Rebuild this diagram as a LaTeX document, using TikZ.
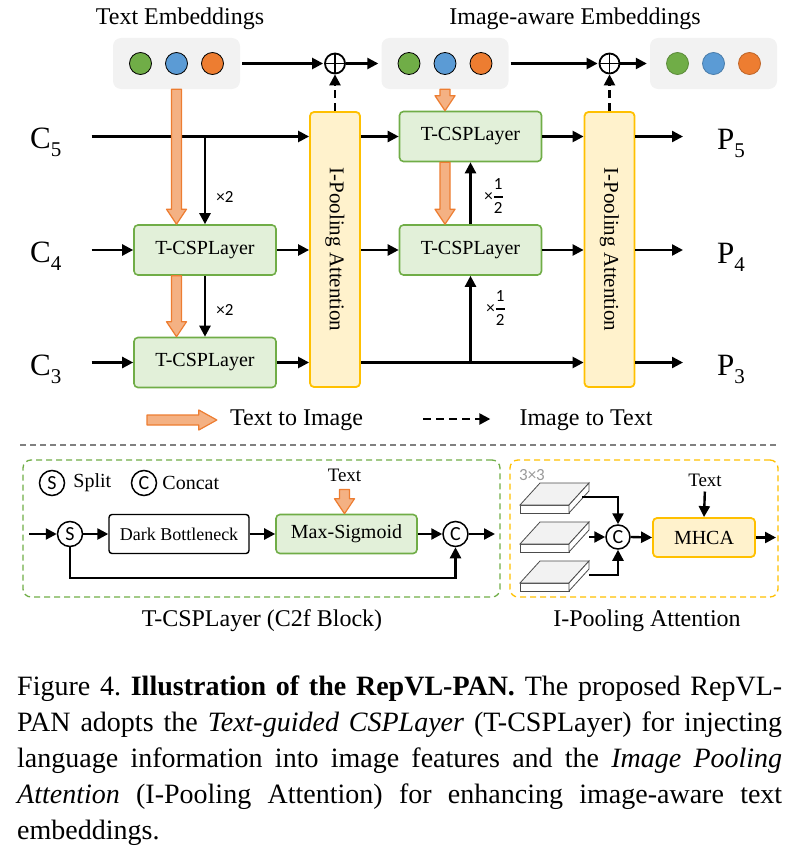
\documentclass[tikz,border=0pt]{standalone}
\usepackage{fontspec}
\setmainfont{Liberation Serif}
\setsansfont{Carlito}
\usepackage{amsmath}
\usetikzlibrary{positioning,arrows.meta,calc}
\definecolor{grnF}{HTML}{E2F0D9}
\definecolor{grnB}{HTML}{70AD47}
\definecolor{orF}{HTML}{F4B183}
\definecolor{orB}{HTML}{ED7D31}
\definecolor{ylF}{HTML}{FFF2CC}
\definecolor{ylB}{HTML}{FFC000}
\definecolor{embF}{HTML}{F2F2F2}
\definecolor{dotG}{HTML}{70AD47}
\definecolor{dotB}{HTML}{5B9BD5}
\definecolor{dotO}{HTML}{ED7D31}
\newcommand\subnivel[1]{\raisebox{-8pt}{\fontsize{21}{21}\selectfont #1}}
\newcommand\medio{\ensuremath{\genfrac{}{}{1.4pt}{0}{\textsf{1}}{\textsf{2}}}}
\tikzset{flecha/.style={line width=2.4pt, -{Triangle[length=11pt,width=11pt]}}}
\tikzset{punteada/.style={flecha, dash pattern=on 8pt off 5pt}}
\tikzset{caja/.style={fill=embF, rounded corners=8pt, minimum width=127pt, minimum height=51pt}}
\tikzset{punto/.style={circle, draw=black, line width=0.8pt, minimum size=22pt, inner sep=0, outer sep=0}}
\tikzset{suma/.style={circle, draw, line width=1.8pt, minimum size=20pt, inner sep=0}}
\tikzset{capa/.style={draw=grnB, fill=grnF, line width=1.6pt, rounded corners=4pt, minimum width=142pt, minimum height=50pt, font=\fontsize{20}{24}\selectfont}}
\tikzset{atencion/.style={draw=ylB, fill=ylF, line width=1.8pt, rounded corners=4pt, minimum width=50pt, minimum height=275pt, inner sep=0, font=\fontsize{21}{24}\selectfont}}
\tikzset{titulo/.style={inner sep=0, font=\fontsize{24}{28}\selectfont}}
\tikzset{texto/.style={inner sep=0, font=\fontsize{20}{24}\selectfont}}
\tikzset{nivel/.style={anchor=base west, inner sep=0, font=\fontsize{31}{34}\selectfont}}
\tikzset{mult/.style={inner sep=0, font=\sffamily\fontsize{17}{20}\selectfont}}
\tikzset{circulo/.style={circle, draw, line width=1.5pt, minimum size=25pt, inner sep=0, font=\sffamily\fontsize{20}{22}\selectfont}}
\tikzset{bloque/.style={draw, line width=1.4pt, rounded corners=3pt, minimum width=140pt, minimum height=39pt, font=\fontsize{18}{22}\selectfont}}
\tikzset{marco/.style={line width=1.3pt, dash pattern=on 6pt off 4pt, rounded corners=8pt, minimum height=137pt}}
\tikzset{losa/.style={draw=black!70, line width=0.8pt}}
\tikzset{leyenda/.style={inner sep=0, text width=765pt, align=justify, font=\fontsize{28}{36}\selectfont\frenchspacing}}
\tikzset{textoimg/.style={draw=orB, fill=orF, line width=1.2pt, line join=round,
  to path={let \p1=(\tikztostart), \p2=(\tikztotarget) in
    (\x1-5pt,\y1) -- (\x1+5pt,\y1) -- (\x1+5pt,\y2+15pt) -- (\x1+10pt,\y2+15pt) -- (\x1,\y2)
    -- (\x1-10pt,\y2+15pt) -- (\x1-5pt,\y2+15pt) -- cycle}}}
\tikzset{textoimgh/.style={draw=orB, fill=orF, line width=1.2pt, line join=round,
  to path={let \p1=(\tikztostart), \p2=(\tikztotarget) in
    (\x1,\y1+5pt) -- (\x2-18pt,\y1+5pt) -- (\x2-18pt,\y1+10pt) -- (\x2,\y1)
    -- (\x2-18pt,\y1-10pt) -- (\x2-18pt,\y1-5pt) -- (\x1,\y1-5pt) -- cycle}}}

\begin{document}
\begin{tikzpicture}[x=1pt,y=-1pt]
            \useasboundingbox (0,0) rectangle (796,851);
            % embeddings
            \node[caja] (te) at (176.5,63.5) {};
            \node[caja] (ae) at (445,63.5) {};
            \node[caja] (oe) at (713.5,63.5) {};
            \node[punto, fill=dotB] (te2) at (te) {};
            \node[punto, fill=dotG, left=14pt of te2] (te1) {};
            \node[punto, fill=dotO, right=14pt of te2] (te3) {};
            \node[punto, fill=dotB] (ae2) at (ae) {};
            \node[punto, fill=dotG, left=14pt of ae2] (ae1) {};
            \node[punto, fill=dotO, right=14pt of ae2] (ae3) {};
            \node[punto, fill=dotB, draw=dotB!80!black] (oe2) at (oe) {};
            \node[punto, fill=dotG, draw=dotG!80!black, left=14pt of oe2] (oe1) {};
            \node[punto, fill=dotO, draw=dotO!80!black, right=14pt of oe2] (oe3) {};
            \node[titulo] (tet) at (180,19) {Text Embeddings};
            \node[titulo] (aet) at (575,19) {Image-aware Embeddings};
            \node[suma] (s1) at (335,63.5) {};
            \node[suma] (s2) at (609.5,63.5) {};
            \draw[line width=1.6pt] (s1.north) -- (s1.south) (s1.west) -- (s1.east);
            \draw[line width=1.6pt] (s2.north) -- (s2.south) (s2.west) -- (s2.east);

            % pan
            \node[atencion] (ip1) at (335,249.5) {\rotatebox{-90}{I-Pooling Attention}};
            \node[atencion] (ip2) at (609.5,249.5) {\rotatebox{-90}{I-Pooling Attention}};
            \node[capa] (t4) at (205,250) {T-CSPLayer};
            \node[capa] (t3) at (205,362.5) {T-CSPLayer};
            \node[capa] (r5) at (470.5,136.5) {T-CSPLayer};
            \node[capa] (r4) at (470.5,250) {T-CSPLayer};
            \node[nivel] (c5) at (30,148.5) {C\subnivel{5}};
            \node[nivel] (c4) at (30,262) {C\subnivel{4}};
            \node[nivel] (c3) at (30,375) {C\subnivel{3}};
            \node[nivel] (p5) at (717,149.5) {P\subnivel{5}};
            \node[nivel] (p4) at (717,263) {P\subnivel{4}};
            \node[nivel] (p3) at (717,375.5) {P\subnivel{3}};
            \node[mult] (m1) at (225,197) {×2};
            \node[mult] (m2) at (225,310) {×2};
            \node[mult] (m3) at (494,196) {×\medio};
            \node[mult] (m4) at (496,308) {×\medio};

            \draw[flecha, shorten <=2pt, shorten >=1pt] (te.east) -- (s1.west);
            \draw[flecha, shorten >=3pt] (s1.east) -- (ae.west);
            \draw[flecha, shorten <=2pt, shorten >=1pt] (ae.east) -- (s2.west);
            \draw[flecha, shorten >=3pt] (s2.east) -- (oe.west);
            \draw[punteada] (ip1.north) -- (s1.south);
            \draw[punteada] (ip2.north) -- (s2.south);

            \draw[flecha, shorten <=30pt] (c5.east |- r5.west) -- (ip1.west |- r5.west);
            \draw[flecha, shorten <=30pt] (c4.east |- t4.west) -- (t4.west);
            \draw[flecha, shorten <=30pt] (c3.east |- t3.west) -- (t3.west);
            \draw[flecha] (t4.east) -- (ip1.west |- t4.east);
            \draw[flecha] (t3.east) -- (ip1.west |- t3.east);
            \draw[flecha] (t4.north |- r5.west) -- (t4.north);
            \draw[flecha] (t4.south) -- (t3.north);
            \draw[flecha] (ip1.east |- r5.west) -- (r5.west);
            \draw[flecha] (ip1.east |- r4.west) -- (r4.west);
            \draw[flecha] (ip1.east |- t3.east) -- (ip2.west |- t3.east);
            \draw[flecha] (r4.south |- t3.east) -- (r4.south);
            \draw[flecha] (r4.north) -- (r5.south);
            \draw[flecha] (r5.east) -- (ip2.west |- r5.east);
            \draw[flecha] (r4.east) -- (ip2.west |- r4.east);
            \draw[flecha, shorten >=34pt] (ip2.east |- r5.east) -- (p5.west |- r5.east);
            \draw[flecha, shorten >=34pt] (ip2.east |- r4.east) -- (p4.west |- r4.east);
            \draw[flecha, shorten >=34pt] (ip2.east |- t3.east) -- (p3.west |- t3.east);

            \draw[textoimg] (te.south) to (t4.north);
            \draw[textoimg] (te.south |- t4.south) to (t3.north);
            \draw[textoimg] (ae.south) to (r5.north);
            \draw[textoimg] (ae.south |- r5.south) to (r4.north);

            % legend
            \coordinate (ti0) at (147,420);
            \node[titulo] (ti) at (296.5,420) {Text to Image};
            \draw[textoimgh] (ti0) to ([xshift=-13pt]ti.west);
            \coordinate (it0) at (423,419);
            \node[titulo] (it) at (586,420) {Image to Text};
            \draw[punteada] (it0) -- ([xshift=-29pt]it.west |- it0);
            \draw[gray, line width=1.3pt, dash pattern=on 6pt off 4pt] (20,445) -- (778,445);

            % t-csplayer
            \node[marco, draw=grnB, minimum width=477pt] (csp) at (261.5,528.5) {};
            \node[circulo] (ls) at (52,483) {S};
            \node[texto, right=8pt of ls] (lst) {Split};
            \node[circulo] (lc) at (144,483) {C};
            \node[texto, right=5pt of lc] (lct) {Concat};
            \node[circulo] (sp) at (70,534) {S};
            \node[bloque] (db) at (179,534) {Dark Bottleneck};
            \node[capa, minimum width=141pt, minimum height=39pt] (ms) at (346.5,534) {Max-Sigmoid};
            \node[circulo] (cc) at (455.5,534) {C};
            \node[texto, font=\fontsize{19}{22}\selectfont] (tx1) at (344.5,475) {Text};
            \coordinate (in0) at (29,534);
            \coordinate (out0) at (495,534);
            \coordinate (skip) at (455.5,578);
            \draw[flecha] (in0) -- (sp.west);
            \draw[flecha] (sp.east) -- (db.west);
            \draw[flecha] (db.east) -- (ms.west);
            \draw[flecha] (ms.east) -- (cc.west);
            \draw[flecha] (cc.east) -- (out0);
            \draw[flecha] (sp.south) |- (skip) -- (cc.south);
            \draw[textoimg] ([yshift=-8pt]tx1.south) to (ms.north);
            \node[titulo] (cap1) at (262,621) {T-CSPLayer (C2f Block)};

            % i-pooling attention
            \node[marco, draw=ylB, minimum width=268pt] (ipa) at (644,528.5) {};
            \node[inner sep=0, text=black!40, font=\sffamily\fontsize{17}{20}\selectfont] (tres) at (532,475) {3×3};
            \filldraw[losa, fill=white] (520,505) rectangle (569,513);
            \filldraw[losa, fill=embF] (520,505) -- (569,505) -- (589,483) -- (540,483) -- cycle;
            \filldraw[losa, fill=white] (569,505) -- (589,483) -- (589,491) -- (569,513) -- cycle;
            \filldraw[losa, fill=white] (520,544) rectangle (569,552);
            \filldraw[losa, fill=embF] (520,544) -- (569,544) -- (589,522) -- (540,522) -- cycle;
            \filldraw[losa, fill=white] (569,544) -- (589,522) -- (589,530) -- (569,552) -- cycle;
            \filldraw[losa, fill=white] (520,583) rectangle (569,591);
            \filldraw[losa, fill=embF] (520,583) -- (569,583) -- (589,561) -- (540,561) -- cycle;
            \filldraw[losa, fill=white] (569,583) -- (589,561) -- (589,569) -- (569,591) -- cycle;
            \coordinate (l1) at (582,497);
            \coordinate (l2) at (589,537);
            \coordinate (l3) at (589,575);
            \node[circulo, minimum size=24pt] (cx) at (618,537) {C};
            \node[atencion, minimum width=102pt, minimum height=39pt, font=\fontsize{20}{24}\selectfont] (mh) at (704,537.5) {MHCA};
            \node[texto, font=\fontsize{19}{22}\selectfont] (tx2) at (705,480) {Text};
            \coordinate (out1) at (776,537.5);
            \draw[flecha] (l1) -| (cx.north);
            \draw[flecha] (l2) -- (cx.west);
            \draw[flecha] (l3) -| (cx.south);
            \draw[flecha] (cx.east) -- (mh.west);
            \draw[flecha, shorten <=5pt] (tx2.south) -- (mh.north);
            \draw[flecha] (mh.east) -- (out1);
            \node[titulo] (cap2) at (647,621) {I-Pooling Attention};

            % caption
            \node[leyenda, anchor=north west] (fig) at (17,676) {Figure 4. \textbf{Illustration of the RepVL-PAN.} The proposed RepVL-\linebreak PAN adopts the \textit{Text-guided CSPLayer} (T-CSPLayer) for injecting\linebreak language information into image features and the \textit{Image Pooling\linebreak Attention} (I-Pooling Attention) for enhancing image-aware text\linebreak embeddings.};
        \end{tikzpicture}
\end{document}
